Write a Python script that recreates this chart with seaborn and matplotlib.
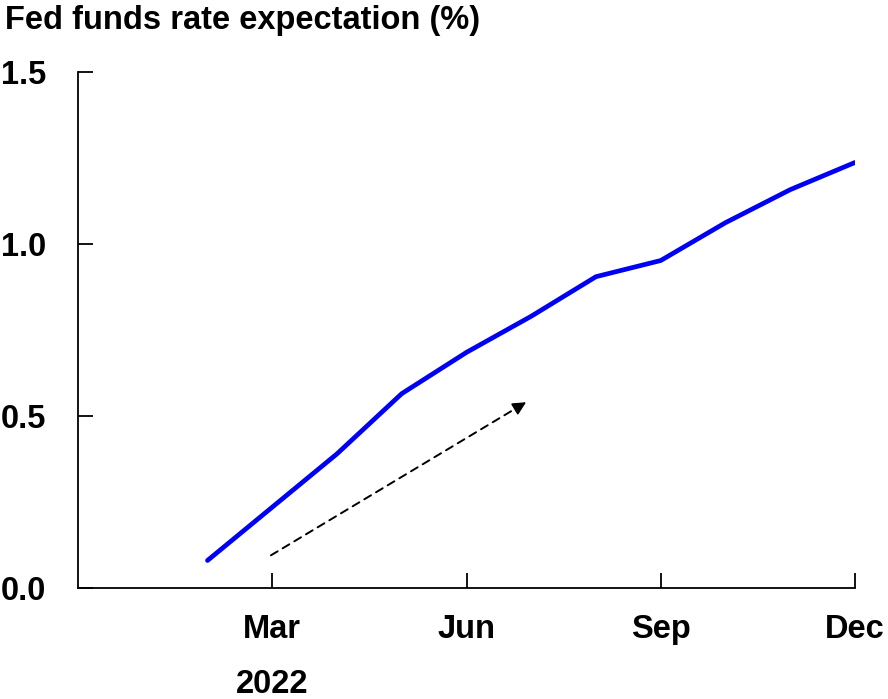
import matplotlib
matplotlib.use("Agg")
import matplotlib.pyplot as plt
import seaborn as sns
import pandas as pd

months = [2, 3, 4, 5, 6, 7, 8, 9, 10, 11, 12]
rate = [0.08, 0.235, 0.39, 0.565, 0.685, 0.79, 0.905, 0.952, 1.062, 1.158, 1.237]
xticks = [3, 6, 9, 12]
xtick_labels = ["Mar", "Jun", "Sep", "Dec"]
yticks = [0.0, 0.5, 1.0, 1.5]
ytick_labels = ["0.0", "0.5", "1.0", "1.5"]
arrow_start = (2.98, 0.095)
arrow_end = (6.92, 0.54)

sns.set_style("white")
plt.rcParams['font.family'] = ['Liberation Sans', 'DejaVu Sans']
plt.rcParams['font.weight'] = 'bold'
plt.rcParams['text.color'] = 'black'

FS = 23.5
fig = plt.figure(figsize=(8.88, 6.99), dpi=100)
W, H = 888, 699
ax = fig.add_axes([78 / W, (H - 588) / H, (855 - 78) / W, (588 - 72) / H])

df = pd.DataFrame({"month": months, "rate": rate})
sns.lineplot(data=df, x="month", y="rate", ax=ax, color="#0000f5", linewidth=3.4)

# dashed shaft
ax.annotate("", xy=arrow_end, xytext=arrow_start,
            arrowprops=dict(arrowstyle="-", linestyle=(0, (4, 3)), color="black",
                            lw=1.4, shrinkA=0, shrinkB=2))
# solid head
f = 0.96
head_base = (arrow_start[0] + f * (arrow_end[0] - arrow_start[0]),
             arrow_start[1] + f * (arrow_end[1] - arrow_start[1]))
ax.annotate("", xy=arrow_end, xytext=head_base,
            arrowprops=dict(arrowstyle="-|>", color="black", lw=1.2,
                            mutation_scale=20, shrinkA=0, shrinkB=0))

ax.set_xlim(0, 12)
ax.set_ylim(0, 1.5)
ax.set_xticks(xticks)
ax.set_xticklabels(xtick_labels, fontsize=FS, fontweight='bold', color='black')
ax.set_yticks(yticks)
ax.set_yticklabels(ytick_labels, fontsize=FS, fontweight='bold', color='black')
ax.tick_params(axis='both', direction='in', length=11, width=1.3, colors='black',
               bottom=True, left=True)
ax.tick_params(axis='x', pad=19)
ax.tick_params(axis='y', pad=23)
ax.set_xlabel("")
ax.set_ylabel("")
for s in ['top', 'right']:
    ax.spines[s].set_visible(False)
for s in ['left', 'bottom']:
    ax.spines[s].set_color('black')
    ax.spines[s].set_linewidth(1.3)

fig.text(5 / W, 1 - 21 / H, "Fed funds rate expectation (%)", fontsize=FS,
         fontweight='bold', ha='left', va='center', color='black')
ax.text(3, -0.28, "2022", fontsize=FS, fontweight='bold', ha='center', va='center',
        transform=ax.transData, color='black')

fig.savefig("out.png", dpi=100)
